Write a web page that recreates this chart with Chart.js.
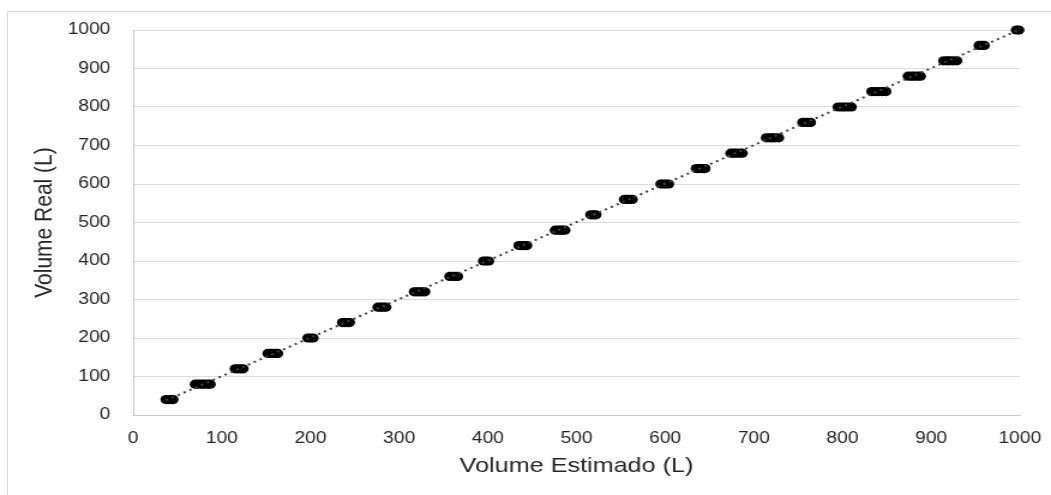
<!DOCTYPE html>
<html lang="pt">
<head>
  <meta charset="UTF-8" />
  <title>Volume Estimado x Volume Real</title>
  <script src="https://cdn.jsdelivr.net/npm/chart.js"></script>
  <style>
    body {
      margin: 0;
      background: #fff;
    }

    .frame {
      position: absolute;
      left: 7px;
      top: 11px;
      width: 1100px;
      height: 600px;
      border-left: 1px solid #d9d9d9;
      border-top: 1px solid #d9d9d9;
    }

    /* the original image is stretched horizontally, so the canvas is too */
    canvas {
      position: absolute;
      left: 0;
      top: 0;
    }
  </style>
</head>
<body>
  <div class="frame"></div>
  <canvas id="chart" width="876" height="495" style="width:1051px;height:495px"></canvas>

  <script>
    // Volume real (L) de cada grupo de medições
    const volumeReal = [40, 80, 120, 160, 200, 240, 280, 320, 360, 400, 440, 480, 520,
                        560, 600, 640, 680, 720, 760, 800, 840, 880, 920, 960, 1000];

    // Volumes estimados (L) lidos para cada volume real
    const volumeEstimado = [
      [37, 40, 43, 45],
      [70, 73, 77, 80, 84, 87],
      [115, 118, 121, 124],
      [152, 155, 158, 161, 163],
      [197, 200, 203],
      [236, 239, 242, 244],
      [276, 279, 282, 285],
      [317, 320, 323, 326, 329],
      [357, 360, 363, 366],
      [395, 398, 401],
      [435, 438, 441, 444],
      [476, 479, 482, 484, 487],
      [516, 519, 522],
      [554, 557, 560, 563],
      [595, 598, 601, 604],
      [635, 638, 641, 644, 645],
      [674, 677, 680, 684, 687],
      [714, 718, 721, 724, 728],
      [755, 758, 761, 764],
      [795, 799, 802, 806, 810],
      [833, 837, 841, 845, 849],
      [874, 878, 881, 885, 888],
      [914, 918, 921, 925, 929],
      [954, 957, 960],
      [996, 999]
    ];

    // Linha de tendência (linear)
    const trendX = [37, 999];
    const trendY = [38, 1000];

    const points = [];
    volumeReal.forEach((real, i) => {
      volumeEstimado[i].forEach(est => points.push({ x: est, y: real }));
    });

    const trend = trendX.map((x, i) => ({ x: x, y: trendY[i] }));

    const tickFont = { family: "'Liberation Sans', Arial, sans-serif", size: 16 };
    const titleFont = { family: "'Liberation Sans', Arial, sans-serif", size: 21 };
    const textColor = '#262626';

    new Chart(document.getElementById("chart"), {
      type: 'scatter',
      data: {
        datasets: [
          {
            type: 'line',
            data: trend,
            borderColor: '#3a4356',
            borderWidth: 2,
            borderDash: [2, 3.5],
            pointRadius: 0,
            fill: false,
            clip: false
          },
          {
            data: points,
            backgroundColor: '#000',
            borderColor: '#000',
            pointRadius: 4.6,
            borderWidth: 0,
            clip: false
          }
        ]
      },
      options: {
        responsive: false,
        animation: false,
        events: [],
        layout: { padding: { left: 0, top: 30, right: 26, bottom: 0 } },
        plugins: {
          legend: { display: false },
          tooltip: { enabled: false }
        },
        scales: {
          x: {
            type: 'linear',
            min: 0,
            max: 1000,
            afterFit: s => {
              s.height = 80;
              s.paddingLeft = 0;
              s.paddingRight = 0;
            },
            ticks: {
              stepSize: 100, color: textColor, font: tickFont, padding: 14, maxRotation: 0,
              callback: v => String(v)
            },
            grid: { display: false, drawTicks: false },
            border: { display: true, color: '#c8c8c8', width: 1 },
            title: { display: true, text: 'Volume Estimado (L)', color: textColor, font: titleFont, padding: 16 }
          },
          y: {
            min: 0,
            max: 1000,
            afterFit: s => {
              s.width = 111;
              s.paddingTop = 0;
              s.paddingBottom = 0;
            },
            ticks: {
              stepSize: 100, color: textColor, font: tickFont, padding: 19,
              callback: v => String(v)
            },
            grid: { color: '#dcdcdc', drawTicks: false },
            border: { display: true, color: '#c8c8c8', width: 1 },
            title: { display: true, text: 'Volume Real (L)', color: textColor, font: titleFont, padding: 25 }
          }
        }
      }
    });
  </script>
</body>
</html>
